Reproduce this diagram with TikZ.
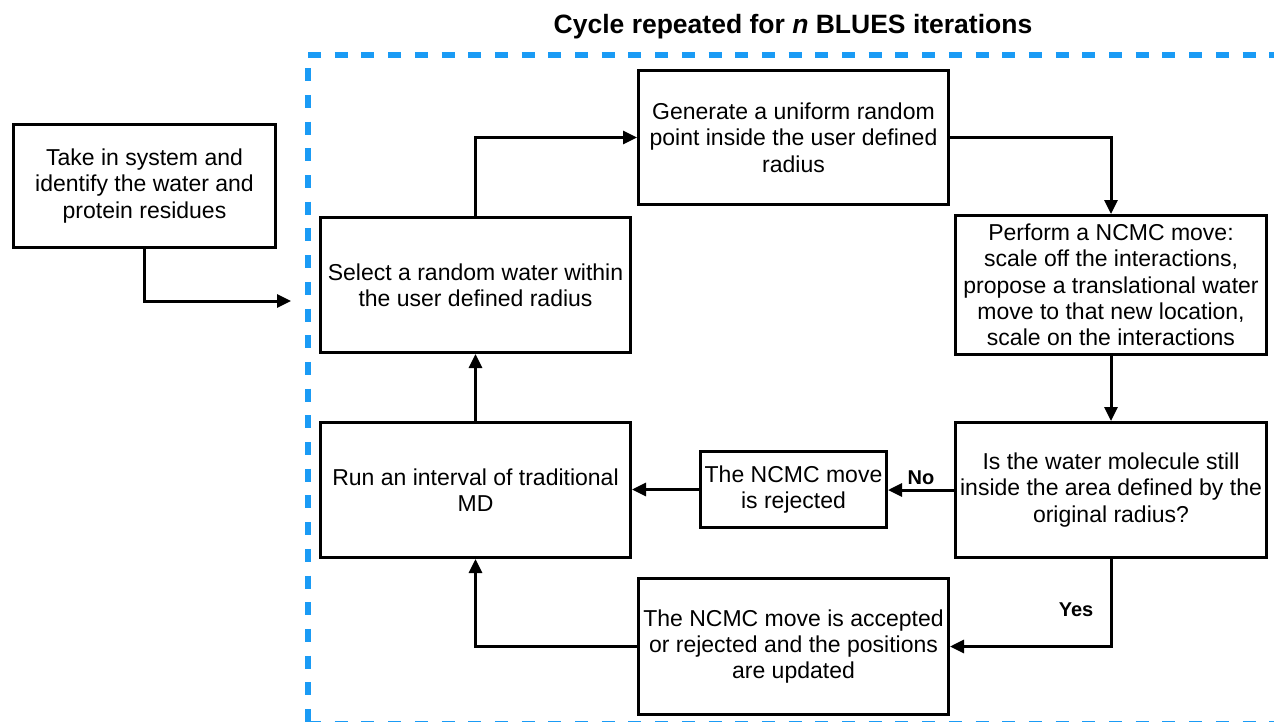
\documentclass[tikz,border=0pt]{standalone}
\usepackage{fontspec}
\setmainfont{Liberation Sans}
\usetikzlibrary{arrows.meta}
\definecolor{dashblue}{HTML}{1A9BF5}
\begin{document}
\begin{tikzpicture}[x=1pt,y=-1pt,
  box/.style={draw=black, line width=3pt, align=center, inner sep=0pt,
    font=\fontsize{23}{26.3}\selectfont},
  arr/.style={line width=3pt, -{Triangle[length=14pt,width=13pt]}},
  lbl/.style={font=\fontsize{20}{24}\selectfont\bfseries, inner sep=0pt}]
\useasboundingbox (0,0) rectangle (1274,721);
\begin{scope}
\clip (0,0) rectangle (1274,721);
\draw[dashblue, line width=6pt, dash pattern=on 13pt off 13.7pt] (308,54.5) -- (1300,54.5);
\draw[dashblue, line width=6pt, dash pattern=on 13pt off 13.7pt, dash phase=13pt] (308,54.5) -- (308,724);
\draw[dashblue, line width=6pt, dash pattern=on 13pt off 13.7pt] (308,724) -- (1300,724);
\end{scope}
\node[font=\fontsize{26.5}{30}\selectfont\bfseries, inner sep=0pt] (title) at (793,27) {Cycle repeated for \textit{n} BLUES iterations};

\node[box, minimum width=262pt, minimum height=123pt] (A) at (144.5,186) {Take in system and\\identify the water and\\protein residues};
\node[box, minimum width=310pt, minimum height=135pt] (B) at (475.5,285) {Select a random water within\\the user defined radius};
\node[box, minimum width=310pt, minimum height=134pt] (C) at (793.5,137.5) {Generate a uniform random\\point inside the user defined\\radius};
\node[box, minimum width=311pt, minimum height=139pt] (D) at (1111,285) {Perform a NCMC move:\\scale off the interactions,\\propose a translational water\\move to that new location,\\scale on the interactions};
\node[box, minimum width=311pt, minimum height=135pt] (E) at (1111,490) {Is the water molecule still\\inside the area defined by the\\original radius?};
\node[box, minimum width=186pt, minimum height=76pt] (F) at (793.5,489.5) {The NCMC move\\is rejected};
\node[box, minimum width=310pt, minimum height=135pt] (G) at (475.5,490) {Run an interval of traditional\\MD};
\node[box, minimum width=310pt, minimum height=136pt] (H) at (793.5,646.5) {The NCMC move is accepted\\or rejected and the positions\\are updated};

\coordinate (entry) at (291,301);
\draw[arr] (A.south) |- (entry);
\draw[arr] (B.north) |- (C.west);
\draw[arr] (C.east) -| (D.north);
\draw[arr] (D.south) -- (E.north);
\draw[arr] (E.west) -- (E.west -| F.east);
\draw[arr] (F.west) -- (F.west -| G.east);
\draw[arr] (E.south) |- (H.east);
\draw[arr] (H.west) -| (G.south);
\draw[arr] (G.north) -- (B.south);

\node[lbl] (no) at (921,478) {No};
\node[lbl] (yes) at (1076,610) {Yes};
\end{tikzpicture}
\end{document}
